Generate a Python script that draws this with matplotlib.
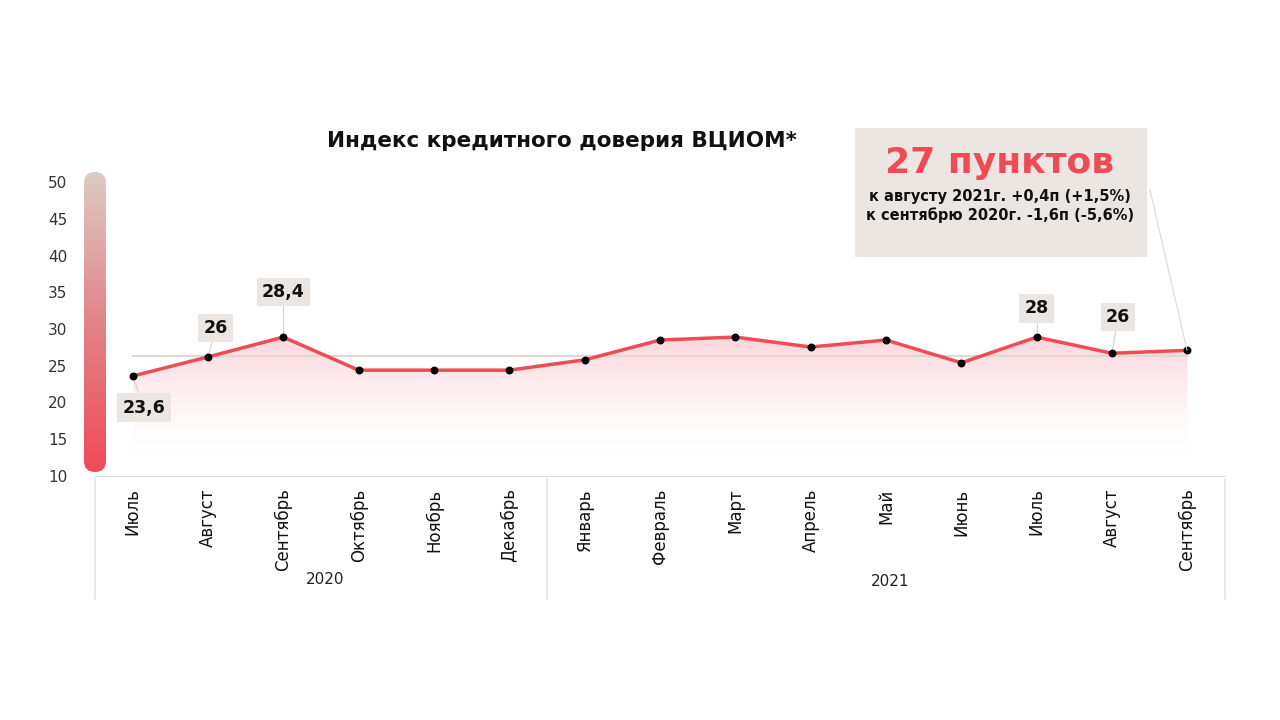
import numpy as np
import matplotlib
matplotlib.use("Agg")
import matplotlib.pyplot as plt
from matplotlib.patches import FancyBboxPatch, Polygon
from matplotlib.colors import LinearSegmentedColormap

plt.rcParams['font.family'] = ['DejaVu Sans']

months = ["Июль", "Август", "Сентябрь", "Октябрь", "Ноябрь", "Декабрь",
          "Январь", "Февраль", "Март", "Апрель", "Май", "Июнь",
          "Июль", "Август", "Сентябрь"]
values = [23.6, 26.2, 28.9, 24.4, 24.4, 24.4, 25.8, 28.5, 28.9, 27.55,
          28.5, 25.4, 28.9, 26.7, 27.1]
avg_line = 26.3
years = ["2020", "2021"]
year_spans = [(0, 5), (6, 14)]

# labelled points: index, text, label position (x, y in data units)
point_labels = [(0, "23,6", 0.15, 19.3),
                (1, "26", 1.1, 30.1),
                (2, "28,4", 2.0, 35.0),
                (12, "28", 12.0, 32.8),
                (13, "26", 13.08, 31.6)]

red = "#ee4c55"
box_bg = "#ebe6e1"

fig = plt.figure(figsize=(12.8, 7.2), dpi=100)
ax = fig.add_axes([95 / 1280, 1 - 476 / 720, 1130 / 1280, 294 / 720])
x = np.arange(len(values))
ax.set_xlim(-0.5, 14.5)
ax.set_ylim(10, 50)

# gradient fill under the line
verts = list(zip(x, values)) + [(x[-1], 10), (x[0], 10)]
poly = Polygon(verts, closed=True, facecolor="none", edgecolor="none")
ax.add_patch(poly)
grad = np.linspace(0, 1, 256).reshape(-1, 1)
fill_cmap = LinearSegmentedColormap.from_list(
    "f", [(1, 1, 1, 0), (0.96, 0.55, 0.6, 0.14), (0.96, 0.45, 0.5, 0.3)])
img = ax.imshow(grad, extent=[x[0], x[-1], 12.5, 29.5], origin="lower",
                cmap=fill_cmap, aspect="auto", zorder=1)
img.set_clip_path(poly)

ax.plot([x[0], x[-1]], [avg_line, avg_line], color="#e2d8d2", lw=1.5, zorder=2)
ax.plot(x, values, color=red, lw=2.5, zorder=3)
ax.scatter(x, values, s=22, color="black", zorder=4)

for i, txt, lx, ly in point_labels:
    ax.plot([x[i], lx], [values[i], ly], color="#d5d0cc", lw=0.8, zorder=2)
    ax.text(lx, ly, txt, ha="center", va="center", fontsize=12.5,
            fontweight="bold", color="#111111", zorder=5,
            bbox=dict(boxstyle="square,pad=0.3", fc=box_bg, ec="none"))

for s in ["top", "right", "left"]:
    ax.spines[s].set_visible(False)
ax.spines["bottom"].set_color("#dddddd")
ax.set_yticks(range(10, 51, 5))
ax.tick_params(axis="y", length=0, pad=20, labelsize=11, labelcolor="#333333")
ax.set_xticks(x)
ax.set_xticklabels(months, rotation=90, fontsize=12, color="#111111")
ax.tick_params(axis="x", length=0, pad=9)

# year grouping
sep_pos = [-0.5, 5.5, 14.5]
for sp in sep_pos:
    ax.annotate("", xy=(sp, 0), xycoords=("data", "axes fraction"),
                xytext=(sp, -126 / 294), textcoords=("data", "axes fraction"),
                arrowprops=dict(arrowstyle="-", color="#dddddd", lw=1),
                annotation_clip=False)
for yr, (a, b), yo in zip(years, year_spans, [-104, -106]):
    ax.text((a + b) / 2 + 0.05, yo / 294, yr, transform=ax.get_xaxis_transform(),
            ha="center", va="center", fontsize=11, color="#222222")

# gradient bar on the left
bar_ax = fig.add_axes([84 / 1280, 1 - 472 / 720, 22 / 1280, 300 / 720])
bar_ax.axis("off")
bar_cmap = LinearSegmentedColormap.from_list("b", ["#f04a55", "#e28488", "#dccbc3"])
bimg = bar_ax.imshow(grad, extent=[0, 1, 0, 1], origin="lower", cmap=bar_cmap,
                     aspect="auto")
clip = FancyBboxPatch((0, 0), 1, 1, boxstyle="round,pad=0,rounding_size=0.5",
                      transform=bar_ax.transAxes, fc="none", ec="none",
                      mutation_aspect=22 / 300)
bar_ax.add_patch(clip)
bimg.set_clip_path(clip)
bar_ax.set_xlim(0, 1)
bar_ax.set_ylim(0, 1)

# title
fig.text(562 / 1280, 1 - 141 / 720, "Индекс кредитного доверия ВЦИОМ*",
         ha="center", va="center", fontsize=15.5, fontweight="bold", color="#111111")

# info box
fig.patches.append(FancyBboxPatch((855 / 1280, 1 - 257 / 720), 292 / 1280, 129 / 720,
                                  boxstyle="square,pad=0", transform=fig.transFigure,
                                  fc=box_bg, ec="none"))
fig.text(1000 / 1280, 1 - 163 / 720, "27 пунктов", ha="center", va="center",
         fontsize=26, fontweight="bold", color=red)
fig.text(1000 / 1280, 1 - 196 / 720, "к августу 2021г. +0,4п (+1,5%)",
         ha="center", va="center", fontsize=10.5, fontweight="bold", color="#111111")
fig.text(1000 / 1280, 1 - 215 / 720, "к сентябрю 2020г. -1,6п (-5,6%)",
         ha="center", va="center", fontsize=10.5, fontweight="bold", color="#111111")
fig.add_artist(plt.Line2D([1150 / 1280, 1187 / 1280], [1 - 190 / 720, 1 - 350 / 720],
                          color="#dcd8d4", lw=0.8, transform=fig.transFigure))

fig.savefig("out.png", dpi=100)
